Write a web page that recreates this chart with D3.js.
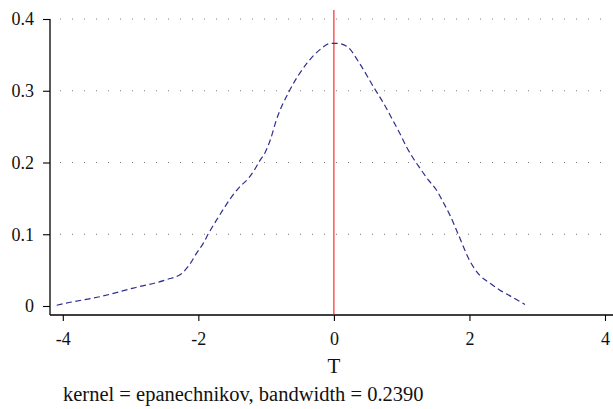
<!DOCTYPE html>
<html><head><meta charset="utf-8">
<script src="https://cdn.jsdelivr.net/npm/d3@7"></script>
</head><body style="margin:0">
<svg id="c" width="613" height="409"></svg>
<script>
const tValues = [-4.09,-3.95,-3.45,-2.96,-2.46,-2.25,-2.12,-2.03,-1.93,-1.85,-1.73,-1.61,-1.51,-1.39,-1.26,-1.17,-1.09,-1.02,-0.94,-0.85,-0.65,-0.40,-0.21,-0.05,0.05,0.19,0.38,0.58,0.73,0.88,0.97,1.07,1.17,1.27,1.39,1.51,1.61,1.71,1.83,2.01,2.15,2.30,2.45,2.62,2.82];
const density = [0.001,0.004,0.013,0.025,0.037,0.045,0.059,0.073,0.087,0.101,0.120,0.138,0.152,0.166,0.178,0.190,0.203,0.213,0.231,0.259,0.301,0.338,0.357,0.366,0.366,0.362,0.338,0.306,0.283,0.257,0.241,0.222,0.206,0.192,0.176,0.162,0.145,0.127,0.101,0.062,0.043,0.032,0.022,0.013,0.002];
const xTicks = [-4,-2,0,2,4];
const yTicks = [0,0.1,0.2,0.3,0.4];
const xLabel = "T";
const caption = "kernel = epanechnikov, bandwidth = 0.2390";
const refLine = 0;

const svg = d3.select("#c");
const font = '"Times New Roman"';
const x = d3.scaleLinear().domain([-4,4]).range([62.8,605]);
const y = d3.scaleLinear().domain([0,0.4]).range([306,19]);
const axisY = 315, axisX = 50;

// gridlines
svg.append("g").selectAll("line").data(yTicks.filter(d=>d>0)).join("line")
  .attr("x1",60).attr("x2",612).attr("y1",d=>y(d)).attr("y2",d=>y(d))
  .attr("stroke","#777").attr("stroke-width",1).attr("stroke-dasharray","1,11");

// y axis
const ya = svg.append("g").attr("transform",`translate(${axisX},0)`)
  .call(d3.axisLeft(y).tickValues(yTicks).tickFormat(d=>d===0?"0":d.toFixed(1)).tickSize(7).tickPadding(9));
ya.attr("font-family",null).attr("font-size",null);
ya.select(".domain").attr("d",`M0,${y(0.4)}V${axisY}`).attr("stroke","#000").attr("stroke-width",1.3);
ya.selectAll("line").attr("stroke","#000").attr("stroke-width",1.1);
ya.selectAll("text").style("font-family",font).style("font-size","18px").attr("fill","#111");

// x axis
const xa = svg.append("g").attr("transform",`translate(0,${axisY})`)
  .call(d3.axisBottom(x).tickValues(xTicks).tickFormat(d=>String(d)).tickSize(6).tickPadding(0));
xa.attr("font-family",null).attr("font-size",null);
xa.select(".domain").attr("d",`M${axisX},0H613`).attr("stroke","#000").attr("stroke-width",1.3);
xa.selectAll("line").attr("stroke","#000").attr("stroke-width",1.1);
xa.selectAll("text").attr("dy",null).attr("y",30).style("font-family",font).style("font-size","18px").attr("fill","#111");

// reference line
svg.append("line").attr("x1",x(refLine)).attr("x2",x(refLine)).attr("y1",10).attr("y2",axisY)
  .attr("stroke","#ff0000").attr("stroke-width",1);

// density curve
const pts = tValues.map((t,i)=>[t,density[i]]);
svg.append("path").datum(pts)
  .attr("d", d3.line().x(d=>x(d[0])).y(d=>y(d[1])).curve(d3.curveMonotoneX))
  .attr("fill","none").attr("stroke","#2e2e8f").attr("stroke-width",1.2).attr("stroke-dasharray","6,3.5");

// labels
svg.append("text").attr("x",x(0)).attr("y",373).attr("text-anchor","middle")
  .style("font-family",font).style("font-size","21px").attr("fill","#111").text(xLabel);
svg.append("text").attr("x",63).attr("y",401)
  .style("font-family",font).style("font-size","20.5px").attr("fill","#111").text(caption);
</script>
</body></html>
